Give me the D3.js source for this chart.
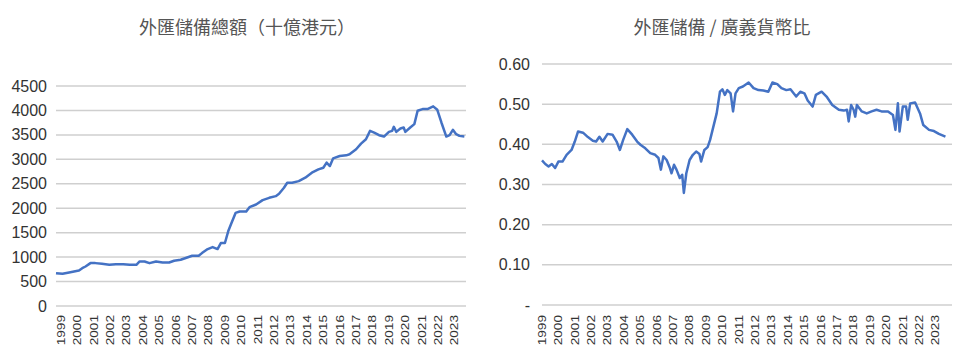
<!DOCTYPE html>
<html>
<head>
<meta charset="utf-8">
<script src="https://cdn.jsdelivr.net/npm/d3@7"></script>
<style>
  body { margin: 0; background: #fff; }
  svg text { font-family: "Liberation Sans", Arial, sans-serif; }
</style>
</head>
<body>
<svg id="chart" width="972" height="364"></svg>
<script>
var yearLabels = d3.range(1999, 2024);

// total FX reserves, HK$ bn (decimal year, value)
var reserveTimes = [1999.0, 1999.4, 1999.8, 2000.1, 2000.4, 2000.6, 2000.8, 2001.1, 2001.4, 2001.8, 2002.25, 2002.65, 2003.1, 2003.5, 2003.9, 2004.1, 2004.4, 2004.7, 2005.1, 2005.5, 2005.9, 2006.2, 2006.6, 2007.0, 2007.3, 2007.7, 2007.9, 2008.25, 2008.55, 2008.85, 2009.05, 2009.3, 2009.5, 2009.7, 2009.95, 2010.2, 2010.6, 2010.8, 2011.2, 2011.6, 2012.0, 2012.4, 2012.6, 2012.9, 2013.1, 2013.4, 2013.8, 2014.2, 2014.6, 2015.0, 2015.3, 2015.5, 2015.7, 2015.9, 2016.3, 2016.7, 2016.9, 2017.3, 2017.6, 2017.9, 2018.15, 2018.4, 2018.7, 2019.0, 2019.3, 2019.5, 2019.6, 2019.75, 2020.0, 2020.2, 2020.3, 2020.6, 2020.85, 2021.05, 2021.35, 2021.65, 2022.0, 2022.25, 2022.5, 2022.8, 2023.0, 2023.2, 2023.4, 2023.6, 2023.9];
var reserveValues = [671, 658, 685, 705, 726, 774, 808, 877, 877, 863, 842, 856, 856, 842, 842, 911, 911, 877, 911, 890, 890, 925, 945, 993, 1027, 1027, 1082, 1165, 1206, 1165, 1288, 1288, 1528, 1699, 1904, 1932, 1932, 2021, 2076, 2165, 2213, 2247, 2295, 2418, 2521, 2521, 2555, 2624, 2726, 2795, 2829, 2932, 2863, 3021, 3069, 3082, 3103, 3206, 3322, 3411, 3583, 3548, 3494, 3466, 3562, 3583, 3665, 3562, 3631, 3651, 3562, 3651, 3720, 3994, 4028, 4028, 4083, 4014, 3754, 3466, 3494, 3603, 3514, 3480, 3466];
var reserveTicks = [0, 500, 1000, 1500, 2000, 2500, 3000, 3500, 4000, 4500];

// FX reserves / broad money ratio
var ratioTimes = [1999.0, 1999.2, 1999.4, 1999.6, 1999.8, 2000.0, 2000.25, 2000.5, 2000.8, 2001.0, 2001.2, 2001.5, 2001.8, 2002.1, 2002.3, 2002.5, 2002.7, 2003.0, 2003.3, 2003.55, 2003.75, 2003.95, 2004.2, 2004.5, 2004.8, 2005.0, 2005.3, 2005.6, 2005.9, 2006.1, 2006.25, 2006.4, 2006.6, 2006.8, 2006.9, 2007.05, 2007.2, 2007.4, 2007.55, 2007.65, 2007.8, 2008.0, 2008.2, 2008.4, 2008.6, 2008.7, 2008.9, 2009.1, 2009.25, 2009.45, 2009.65, 2009.85, 2010.0, 2010.15, 2010.3, 2010.5, 2010.65, 2010.8, 2011.0, 2011.25, 2011.6, 2011.9, 2012.2, 2012.5, 2012.8, 2013.05, 2013.35, 2013.6, 2013.9, 2014.15, 2014.5, 2014.75, 2015.0, 2015.2, 2015.5, 2015.7, 2016.05, 2016.35, 2016.7, 2017.1, 2017.4, 2017.6, 2017.7, 2017.85, 2018.0, 2018.1, 2018.2, 2018.5, 2018.8, 2019.1, 2019.4, 2019.7, 2020.1, 2020.4, 2020.55, 2020.7, 2020.8, 2021.0, 2021.2, 2021.3, 2021.45, 2021.75, 2022.05, 2022.25, 2022.6, 2022.9, 2023.2, 2023.6];
var ratioValues = [0.360, 0.351, 0.345, 0.351, 0.341, 0.357, 0.357, 0.374, 0.386, 0.407, 0.432, 0.429, 0.418, 0.409, 0.407, 0.419, 0.407, 0.426, 0.424, 0.407, 0.386, 0.411, 0.438, 0.424, 0.407, 0.399, 0.390, 0.378, 0.374, 0.366, 0.337, 0.370, 0.361, 0.341, 0.328, 0.349, 0.337, 0.316, 0.324, 0.279, 0.328, 0.361, 0.374, 0.382, 0.376, 0.357, 0.386, 0.393, 0.411, 0.444, 0.477, 0.531, 0.537, 0.523, 0.535, 0.527, 0.482, 0.527, 0.540, 0.544, 0.554, 0.540, 0.535, 0.534, 0.531, 0.554, 0.550, 0.540, 0.535, 0.537, 0.519, 0.531, 0.527, 0.509, 0.494, 0.523, 0.531, 0.519, 0.498, 0.486, 0.484, 0.486, 0.457, 0.498, 0.486, 0.469, 0.498, 0.482, 0.477, 0.482, 0.486, 0.482, 0.482, 0.473, 0.436, 0.502, 0.432, 0.494, 0.494, 0.461, 0.502, 0.504, 0.477, 0.448, 0.436, 0.433, 0.426, 0.419];
var ratioTicks = [0, 0.1, 0.2, 0.3, 0.4, 0.5, 0.6];

var svg = d3.select("#chart");

function drawChart(opt) {
  var x = d3.scaleLinear()
    .domain([1999, 2024])
    .range([opt.left, opt.left + 410]);

  var y = d3.scaleLinear()
    .domain(opt.yDomain)
    .range([opt.bottom, opt.top]);

  var g = svg.append("g");

  g.append("text")
    .attr("x", opt.titleX)
    .attr("y", 26)
    .attr("text-anchor", "middle")
    .attr("dominant-baseline", "central")
    .style("font-family", "'Noto Sans CJK TC', 'Noto Sans CJK SC', sans-serif")
    .style("font-size", "18px")
    .style("fill", "#555")
    .text(opt.title);

  // gridlines
  g.append("g")
    .selectAll("line")
    .data(opt.ticks)
    .enter().append("line")
    .attr("x1", x.range()[0])
    .attr("x2", x.range()[1])
    .attr("y1", function(d) { return y(d); })
    .attr("y2", function(d) { return y(d); })
    .attr("stroke", "#cfcfcf")
    .attr("stroke-width", 1.5);

  // y labels
  g.append("g")
    .selectAll("text")
    .data(opt.ticks)
    .enter().append("text")
    .attr("x", opt.left - opt.labelGap)
    .attr("y", function(d) { return y(d); })
    .attr("dy", "0.35em")
    .attr("text-anchor", "end")
    .style("font-size", "16px")
    .style("fill", "#333")
    .text(opt.format);

  // x labels, rotated
  g.append("g")
    .selectAll("text")
    .data(yearLabels)
    .enter().append("text")
    .attr("transform", function(d) {
      return "translate(" + x(d + opt.labelShift) + ",315) rotate(-90) scale(1.3,1)";
    })
    .attr("dy", "0.36em")
    .attr("text-anchor", "end")
    .style("font-size", "10.5px")
    .style("fill", "#333")
    .text(function(d) { return d; });

  var line = d3.line()
    .x(function(d) { return x(d[0]); })
    .y(function(d) { return y(d[1]); });

  g.append("path")
    .datum(d3.zip(opt.times, opt.values))
    .attr("d", line)
    .attr("fill", "none")
    .attr("stroke", "#4472C4")
    .attr("stroke-width", 2.5)
    .attr("stroke-linejoin", "round");
}

drawChart({
  title: "外匯儲備總額（十億港元）",
  titleX: 247,
  left: 56, top: 86, bottom: 306,
  yDomain: [0, 4500],
  ticks: reserveTicks,
  format: function(d) { return d; },
  labelGap: 9,
  labelShift: 0.3,
  times: reserveTimes,
  values: reserveValues
});

drawChart({
  title: "外匯儲備 / 廣義貨幣比",
  titleX: 722,
  left: 542, top: 64, bottom: 305,
  yDomain: [0, 0.6],
  ticks: ratioTicks,
  format: function(d) { return d === 0 ? "-" : d3.format(".2f")(d); },
  labelGap: 12,
  labelShift: 0.0,
  times: ratioTimes,
  values: ratioValues
});
</script>
</body>
</html>
